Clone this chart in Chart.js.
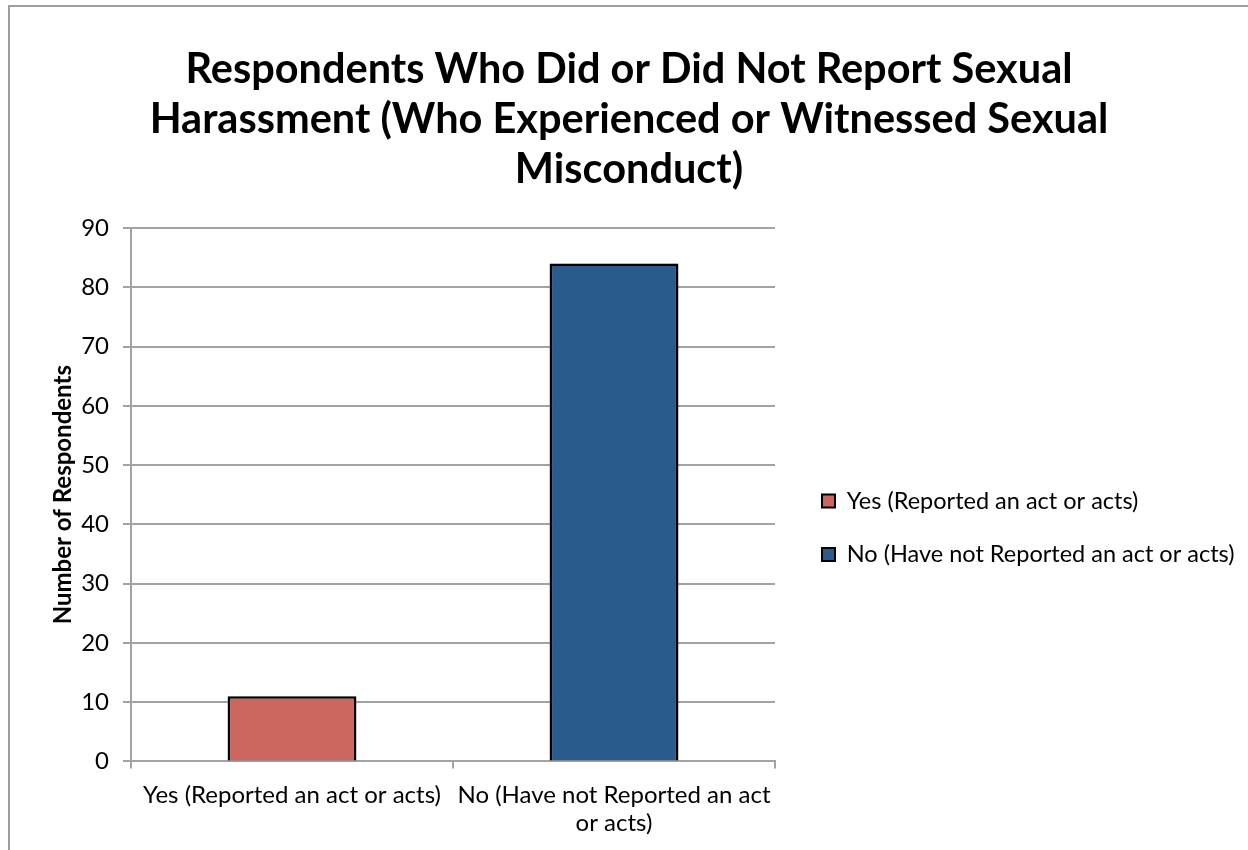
<!DOCTYPE html>
<html>
<head>
<meta charset="utf-8">
<script src="https://cdn.jsdelivr.net/npm/chart.js@4/dist/chart.umd.min.js"></script>
<style>
  html, body { margin: 0; padding: 0; background: #fff; overflow: hidden; }
  #frame { position: absolute; left: 8px; top: 5px; border-left: 2px solid #9d9d9d; border-top: 2px solid #9d9d9d; }
  canvas { display: block; }
</style>
</head>
<body>
<div id="frame"><canvas id="chart" width="1238" height="843"></canvas></div>
<script>
// ─── dados ───
var titleLines = ['Respondents Who Did or Did Not Report Sexual', 'Harassment (Who Experienced or Witnessed Sexual', 'Misconduct)'];
var categories = ['Yes (Reported an act or acts)', 'No (Have not Reported an act or acts)'];
var tickLines = [['Yes (Reported an act or acts)'], ['No (Have not Reported an act', 'or acts)']];
var respondents = [11, 84];
var barColors = ['#CC6660', '#295B8D'];
var yTicks = [0, 10, 20, 30, 40, 50, 60, 70, 80, 90];
var yTitle = 'Number of Respondents';

var gridCor = '#a3a3a3';
Chart.defaults.font.family = 'Lato';
Chart.defaults.color = '#000';

// legenda: largura fixa e deslocamento igual ao Excel
var ajusteLegenda = {
  id: 'ajusteLegenda',
  beforeInit: function(chart) {
    var fitOrig = chart.legend.fit;
    chart.legend.fit = function() { fitOrig.call(this); this.width = 473; };
  },
  afterLayout: function(chart) {
    var lg = chart.legend;
    lg.left += 17; lg.right += 17;
    lg.top += 33; lg.bottom += 33;
  }
};

// sombra leve nas barras (como no Excel)
var sombraBarras = {
  id: 'sombraBarras',
  beforeDatasetsDraw: function(chart) {
    var ctx = chart.ctx;
    ctx.save();
    ctx.shadowColor = 'rgba(0,0,0,0.3)';
    ctx.shadowBlur = 5;
    ctx.shadowOffsetX = 1;
    ctx.shadowOffsetY = 1;
  },
  afterDatasetsDraw: function(chart) { chart.ctx.restore(); }
};

new Chart(document.getElementById('chart').getContext('2d'), {
  type: 'bar',
  data: {
    labels: categories,
    datasets: [{
      data: respondents,
      backgroundColor: barColors,
      borderColor: '#000',
      borderWidth: 2.5,
      barPercentage: 0.4,
      categoryPercentage: 1
    }]
  },
  options: {
    responsive: false,
    animation: false,
    layout: { padding: 0 },
    plugins: {
      title: {
        display: true, text: titleLines, color: '#000',
        font: { size: 41.5, weight: 'bold', lineHeight: 50 / 41.5 },
        padding: { top: 38, bottom: 33 }
      },
      legend: {
        position: 'right',
        fullSize: false,
        labels: {
          font: { size: 23.5 }, color: '#000', boxWidth: 13, boxHeight: 13, padding: 30,
          generateLabels: function(chart) {
            return categories.map(function(c, i) {
              return { text: c, fillStyle: barColors[i], strokeStyle: '#000', lineWidth: 2, index: i, datasetIndex: 0 };
            });
          }
        }
      },
      tooltip: { enabled: false }
    },
    scales: {
      x: {
        grid: { display: true, drawOnChartArea: false, drawTicks: true, tickLength: 7, offset: true, color: gridCor, lineWidth: 2 },
        border: { color: gridCor, width: 2 },
        ticks: {
          font: { size: 24, lineHeight: 1.2 }, color: '#000', padding: 12,
          maxRotation: 0, minRotation: 0, autoSkip: false,
          callback: function(v, i) { return tickLines[i]; }
        }
      },
      y: {
        min: 0, max: 90,
        afterBuildTicks: function(s) { s.ticks = yTicks.map(function(v) { return { value: v }; }); },
        afterFit: function(s) { s.width = 121; },
        grid: { color: gridCor, lineWidth: 2, tickLength: 8 },
        border: { color: gridCor, width: 2 },
        ticks: { font: { size: 24 }, color: '#000', padding: 14 },
        title: { display: true, text: yTitle, color: '#000', font: { size: 24, weight: 'bold' }, padding: { top: 39, bottom: 0 } }
      }
    }
  },
  plugins: [ajusteLegenda, sombraBarras]
});
</script>
</body>
</html>
